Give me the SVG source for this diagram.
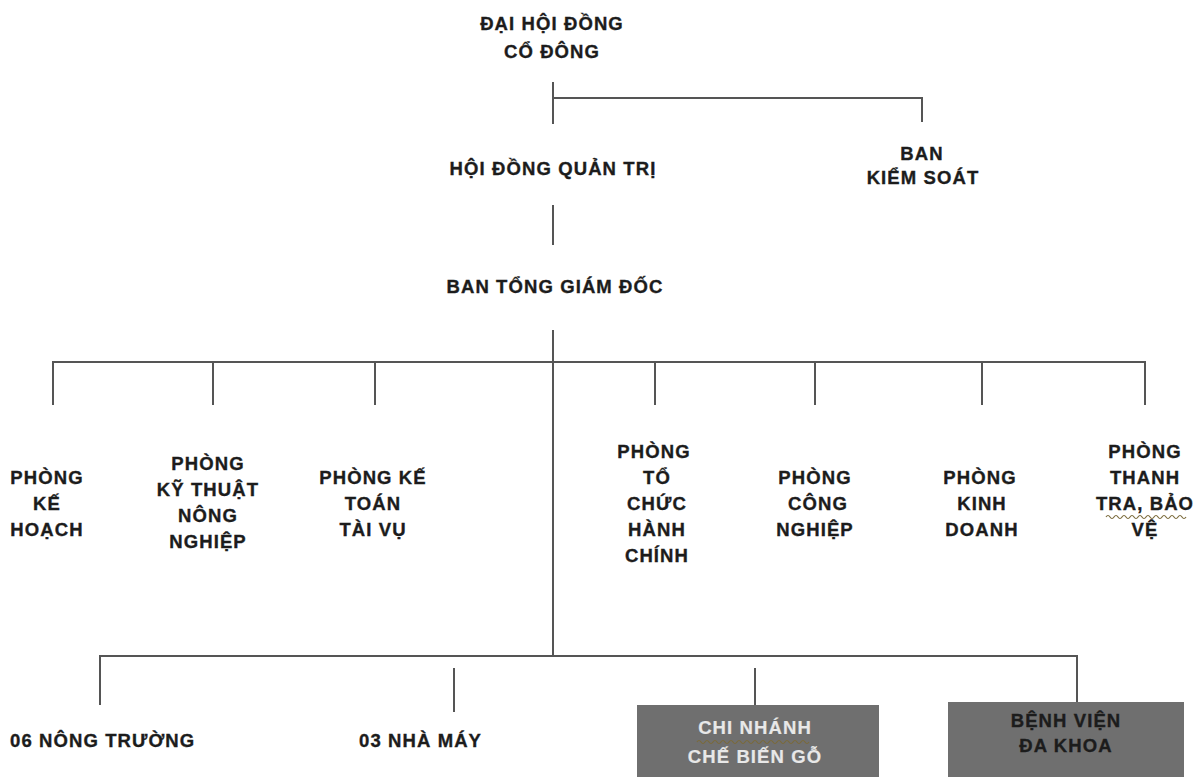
<svg xmlns="http://www.w3.org/2000/svg" width="1197" height="777" viewBox="0 0 1197 777">
<style>
  text { font-family: "Liberation Sans", Arial, sans-serif; font-weight: bold; font-size: 18.5px; letter-spacing: 1.1px; fill: #1c1c1c; stroke: #1c1c1c; stroke-width: 0.35px; text-anchor: middle; }
  .l { text-anchor: start; }
  .conn line { stroke: #555; stroke-width: 2; }
  .box { fill: #6f6f6f; }
  text.light { fill: #e8e8e8; stroke: #e8e8e8; stroke-width: 0.2px; }
  .wavy { fill: none; stroke: #7a6a3a; stroke-width: 1.2; }
</style>
<rect width="1197" height="777" fill="#ffffff"/>
<g id="connectors" class="conn">
  <line x1="553" y1="82" x2="553" y2="124"/>
  <line x1="553" y1="98" x2="922" y2="98"/>
  <line x1="922" y1="97" x2="922" y2="122"/>
  <line x1="553" y1="205" x2="553" y2="245"/>
  <line x1="553" y1="330" x2="553" y2="657"/>
  <line x1="52" y1="362" x2="1146" y2="362"/>
  <line x1="53" y1="361" x2="53" y2="405"/>
  <line x1="213" y1="362" x2="213" y2="405"/>
  <line x1="375" y1="362" x2="375" y2="405"/>
  <line x1="655" y1="362" x2="655" y2="405"/>
  <line x1="815" y1="362" x2="815" y2="405"/>
  <line x1="982" y1="362" x2="982" y2="405"/>
  <line x1="1145" y1="361" x2="1145" y2="405"/>
  <line x1="99" y1="656" x2="1078" y2="656"/>
  <line x1="100" y1="655" x2="100" y2="705"/>
  <line x1="454" y1="668" x2="454" y2="712"/>
  <line x1="755" y1="668" x2="755" y2="705"/>
  <line x1="1077" y1="655" x2="1077" y2="702"/>
</g>
<g id="dhdcd"><text x="552" y="30">ĐẠI HỘI ĐỒNG</text><text x="552" y="58">CỔ ĐÔNG</text></g>
<g id="hdqt"><text x="553" y="175">HỘI ĐỒNG QUẢN TRỊ</text></g>
<g id="bks"><text x="922" y="160">BAN</text><text x="923" y="184">KIỂM SOÁT</text></g>
<g id="btgd"><text x="555" y="293">BAN TỔNG GIÁM ĐỐC</text></g>
<g id="p-kehoach"><text x="47" y="484">PHÒNG</text><text x="47" y="510">KẾ</text><text x="47" y="536">HOẠCH</text></g>
<g id="p-kythuat"><text x="208" y="470">PHÒNG</text><text x="208" y="496">KỸ THUẬT</text><text x="208" y="522">NÔNG</text><text x="208" y="548">NGHIỆP</text></g>
<g id="p-ketoan"><text x="373" y="484">PHÒNG KẾ</text><text x="373" y="510">TOÁN</text><text x="373" y="536">TÀI VỤ</text></g>
<g id="p-tochuc"><text x="654" y="458">PHÒNG</text><text x="657" y="484">TỔ</text><text x="657" y="510">CHỨC</text><text x="657" y="536">HÀNH</text><text x="657" y="562">CHÍNH</text></g>
<g id="p-congnghiep"><text x="815" y="484">PHÒNG</text><text x="818" y="510">CÔNG</text><text x="815" y="536">NGHIỆP</text></g>
<g id="p-kinhdoanh"><text x="980" y="484">PHÒNG</text><text x="982" y="510">KINH</text><text x="982" y="536">DOANH</text></g>
<g id="p-thanhtra"><text x="1145" y="458">PHÒNG</text><text x="1145" y="484">THANH</text><text x="1145" y="510">TRA, BẢO</text><path class="wavy" d="M1106 517 q2 -3 4 0 t4 0 t4 0 t4 0 t4 0 t4 0 t4 0 t4 0 t4 0 t4 0 t4 0 t4 0 t4 0 t4 0 t4 0 t4 0 t4 0 t4 0 t4 0 t4 0"/><text x="1145" y="536">VỆ</text></g>
<g id="nongtruong"><text class="l" x="10" y="747">06 NÔNG TRƯỜNG</text></g>
<g id="nhamay"><text class="l" x="359" y="747">03 NHÀ MÁY</text></g>
<g id="chinhanh"><rect class="box" x="637" y="705" width="242" height="72"/><text class="light" x="755" y="734">CHI NHÁNH</text><path class="wavy" d="M697 742 q2 -3 4 0 t4 0 t4 0 t4 0 t4 0 t4 0 t4 0 t4 0 t4 0 t4 0 t4 0 t4 0 t4 0 t4 0 t4 0 t4 0 t4 0 t4 0 t4 0 t4 0 t4 0 t4 0 t4 0 t4 0 t4 0 t4 0 t4 0 t4 0"/><text class="light" x="755" y="763">CHẾ BIẾN GỖ</text></g>
<g id="benhvien"><rect class="box" x="948" y="702" width="236" height="75"/><text x="1066" y="727">BỆNH VIỆN</text><text x="1066" y="752">ĐA KHOA</text></g>
</svg>
